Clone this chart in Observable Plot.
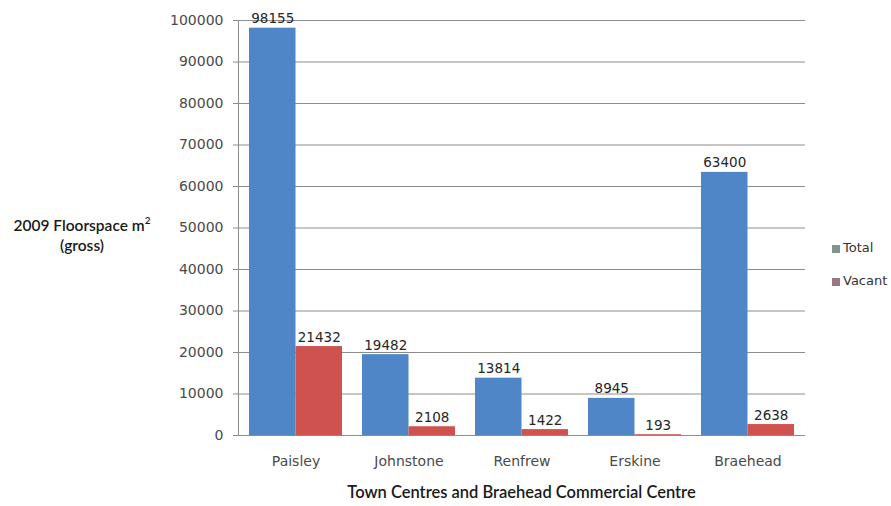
<!DOCTYPE html>
<html>
<head>
<meta charset="utf-8">
<script src="https://cdn.jsdelivr.net/npm/d3@7"></script>
<script src="https://cdn.jsdelivr.net/npm/@observablehq/plot@0.6"></script>
<style>
  body { margin: 0; background: #fff; }
  #chart { position: relative; width: 891px; height: 506px; }
  #chart svg { position: absolute; left: 0; top: 0; }
  .title-y { position: absolute; left: 2px; top: 215px; width: 160px; text-align: center;
    font-family: Lato, "Open Sans", sans-serif; font-size: 15.5px; line-height: 20px; color: #1a1a1a; font-weight: 600; }
  .title-y sup { font-size: 10px; line-height: 0; position: relative; top: -1px; }
  .title-x { position: absolute; left: 238px; top: 482px; width: 567px; text-align: center;
    font-family: Lato, "Open Sans", sans-serif; font-size: 16.5px; color: #1a1a1a; font-weight: 600; }
  .legend { position: absolute; left: 832px; top: 240px; font-family: "DejaVu Sans", sans-serif;
    font-size: 13px; color: #333; }
  .legend div { height: 33px; display: flex; align-items: flex-start; white-space: nowrap; }
  .legend span.sw { display: inline-block; width: 8px; height: 8px; margin: 5px 3px 0 0; }
</style>
</head>
<body>
<div id="chart"></div>
<script>
// Retail floorspace (m², gross) in 2009 for Renfrewshire town centres and Braehead
const centres = ["Paisley", "Johnstone", "Renfrew", "Erskine", "Braehead"];
const totalFloorspace = [98155, 19482, 13814, 8945, 63400];
const vacantFloorspace = [21432, 2108, 1422, 193, 2638];
const yTicks = [0, 10000, 20000, 30000, 40000, 50000, 60000, 70000, 80000, 90000, 100000];
const seriesNames = ["Total", "Vacant"];
const barColors = ["#4f86c8", "#cf524e"];
const legendColors = ["#7f968f", "#9b7784"];

const totals = centres.map((c, i) => ({centre: c, value: totalFloorspace[i]}));
const vacants = centres.map((c, i) => ({centre: c, value: vacantFloorspace[i]}));

const labelFont = "DejaVu Sans, sans-serif";

const plot = Plot.plot({
  width: 891,
  height: 506,
  marginLeft: 238,
  marginRight: 86,
  marginTop: 20,
  marginBottom: 71,
  style: {fontFamily: labelFont, fontSize: "13.5px", color: "#404040", background: "transparent"},
  x: {domain: centres, paddingInner: 0.18, paddingOuter: 0.09},
  y: {domain: [0, 100000]},
  marks: [
    Plot.gridY(yTicks, {stroke: "#8c8c8c", strokeOpacity: 1}),
    Plot.frame({anchor: "left", stroke: "#8c8c8c"}),
    Plot.barY(totals, {x: "centre", y: "value", fill: barColors[0], insetRight: 46.5, insetLeft: 0}),
    Plot.barY(vacants, {x: "centre", y: "value", fill: barColors[1], insetLeft: 46.5, insetRight: 0}),
    Plot.text(totals, {x: "centre", y: "value", text: d => String(d.value), dx: -23.25, dy: -5,
      lineAnchor: "bottom", fill: "#262626"}),
    Plot.text(vacants, {x: "centre", y: "value", text: d => String(d.value), dx: 23.25, dy: -5,
      lineAnchor: "bottom", fill: "#262626"}),
    Plot.ruleY([0], {stroke: "#8c8c8c"}),
    Plot.axisY(yTicks, {tickSize: 5, tickPadding: 10, tickFormat: d => String(d), label: null,
      stroke: "#8c8c8c", fill: "#4a4a4a", fontSize: 14}),
    Plot.axisX({tickSize: 0, tickPadding: 21, label: null, fill: "#4a4a4a", fontSize: 14})
  ]
});

const chart = document.getElementById("chart");
chart.appendChild(plot);

const yTitle = document.createElement("div");
yTitle.className = "title-y";
yTitle.innerHTML = "2009 Floorspace m<sup>2</sup><br>(gross)";
chart.appendChild(yTitle);

const xTitle = document.createElement("div");
xTitle.className = "title-x";
xTitle.textContent = "Town Centres and Braehead Commercial Centre";
chart.appendChild(xTitle);

const legend = document.createElement("div");
legend.className = "legend";
seriesNames.forEach((name, i) => {
  const row = document.createElement("div");
  const sw = document.createElement("span");
  sw.className = "sw";
  sw.style.background = legendColors[i];
  row.appendChild(sw);
  row.appendChild(document.createTextNode(name));
  legend.appendChild(row);
});
chart.appendChild(legend);
</script>
</body>
</html>
